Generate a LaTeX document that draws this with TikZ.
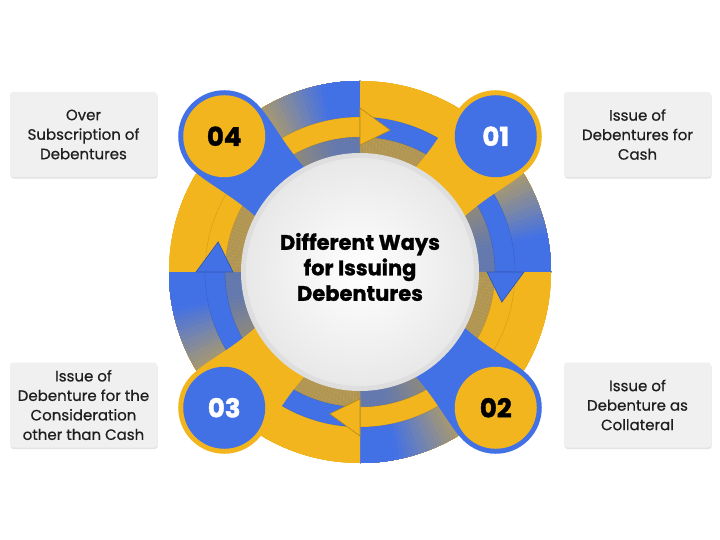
\documentclass[tikz,border=0pt]{standalone}
\usepackage{fontspec}
\setmainfont{Poppins}
\usetikzlibrary{shadows}
\definecolor{yel}{RGB}{242,181,29}
\definecolor{blu}{RGB}{66,113,230}
\definecolor{boxgray}{RGB}{240,240,240}
\tikzset{
  labelbox/.style={rounded corners=3pt, fill=boxgray, minimum width=147pt, minimum height=85pt,
    align=center, font=\fontsize{15}{19.5}\selectfont\addfontfeature{FakeBold=0.6}, text=black!88, inner sep=0pt,
    drop shadow={shadow xshift=0.6pt, shadow yshift=-1.6pt, opacity=0.22}},
  numtext/.style={font=\bfseries\fontsize{26}{26}\selectfont\addfontfeature{FakeBold=1.5}},
  badge/.style={circle, minimum size=82pt, inner sep=0pt, numtext},
  headline/.style={line width=0.6pt},
  titletext/.style={font=\bfseries\fontsize{21}{25.5}\selectfont\addfontfeature{FakeBold=1.2}, align=center, text=black},
}
\begin{document}
\begin{tikzpicture}[x=1pt,y=1pt]
\useasboundingbox (0,0) rectangle (720,539);
\fill[white] (0,0) rectangle (720,539);
\coordinate (C) at (360,267);
\begin{scope}[shift={(C)}]
  % outer ring with quadrant gradients and inner groove
  \foreach \s in {180,90,0,-90} {
    \pgfmathsetmacro\angE{\s-90}
    \foreach \i in {0,...,59} {
      \pgfmathsetmacro\angA{\s-1.5*\i}
      \pgfmathsetmacro\tv{(\i+0.5)/60}
      \pgfmathtruncatemacro\p{100*(1-min(1,max(0,(\tv-0.5)/0.38)))}
      \colorlet{rc}{yel!\p!blu}
      \fill[rc] (\angA:117) arc[start angle=\angA, end angle=\angE, radius=117]
        -- (\angE:191) arc[start angle=\angE, end angle=\angA, radius=191] -- cycle;
      \fill[rc!42!gray] (\angA:117) arc[start angle=\angA, end angle=\angE, radius=117]
        -- (\angE:135) arc[start angle=\angE, end angle=\angA, radius=135] -- cycle;
    }
  }
  % arrow bands
  \fill[yel, draw=black, draw opacity=0.15] (180:135) arc[start angle=180,end angle=90,radius=135]
     -- (90:155) arc[start angle=90,end angle=180,radius=155] -- cycle;
  \fill[blu, draw=black, draw opacity=0.15] (90:135) arc[start angle=90,end angle=0,radius=135]
     -- (0:155) arc[start angle=0,end angle=90,radius=155] -- cycle;
  \fill[yel, draw=black, draw opacity=0.15] (0:135) arc[start angle=0,end angle=-90,radius=135]
     -- (-90:155) arc[start angle=-90,end angle=0,radius=155] -- cycle;
  \fill[blu, draw=black, draw opacity=0.15] (-90:135) arc[start angle=-90,end angle=-180,radius=135]
     -- (-180:155) arc[start angle=-180,end angle=-90,radius=155] -- cycle;
  % arrow heads
  \fill[yel, draw=yel!75!black, headline] (90:127) -- (78:145) -- (90:164) -- cycle;
  \fill[blu, draw=blu!75!black, headline] (0:127) -- (-12:145) -- (0:164) -- cycle;
  \fill[yel, draw=yel!75!black, headline] (-90:127) -- (-102:145) -- (-90:164) -- cycle;
  \fill[blu, draw=blu!75!black, headline] (180:127) -- (168:145) -- (180:164) -- cycle;
\end{scope}
% badges with tails
\foreach \ang/\tc/\dc/\lab/\txt/\nm in {45/yel/blu/01/white/n1, -45/blu/yel/02/black/n2, -135/yel/blu/03/white/n3, 135/blu/yel/04/black/n4} {
  \begin{scope}[shift={(C)}, rotate=\ang]
    \fill[\tc] (0,0) -- (-17:118) .. controls (150,-37) and (172,-46) .. (192,-46)
      arc[start angle=-90, end angle=90, radius=46]
      .. controls (172,46) and (150,37) .. (17:118) -- cycle;
  \end{scope}
  \node[badge, fill=\dc, text=\txt] (\nm) at ([shift={(\ang:192)}]C) {\lab};
}
% central disc
\fill[black!13] (C) circle (119);
\shade[inner color=white, outer color=black!9] (C) circle (114);
\node[titletext] (title) at (360,272) {Different Ways\\for Issuing\\Debentures};
% label boxes
\node[labelbox] (b4) at (83.5,404.5) {Over\\Subscription of\\Debentures};
\node[labelbox] (b1) at (637.5,404.5) {Issue of\\Debentures for\\Cash};
\node[labelbox] (b3) at (83.5,134) {Issue of\\Debenture for the\\Consideration\\other than Cash};
\node[labelbox] (b2) at (637.5,134) {Issue of\\Debenture as\\Collateral};
\end{tikzpicture}
\end{document}
